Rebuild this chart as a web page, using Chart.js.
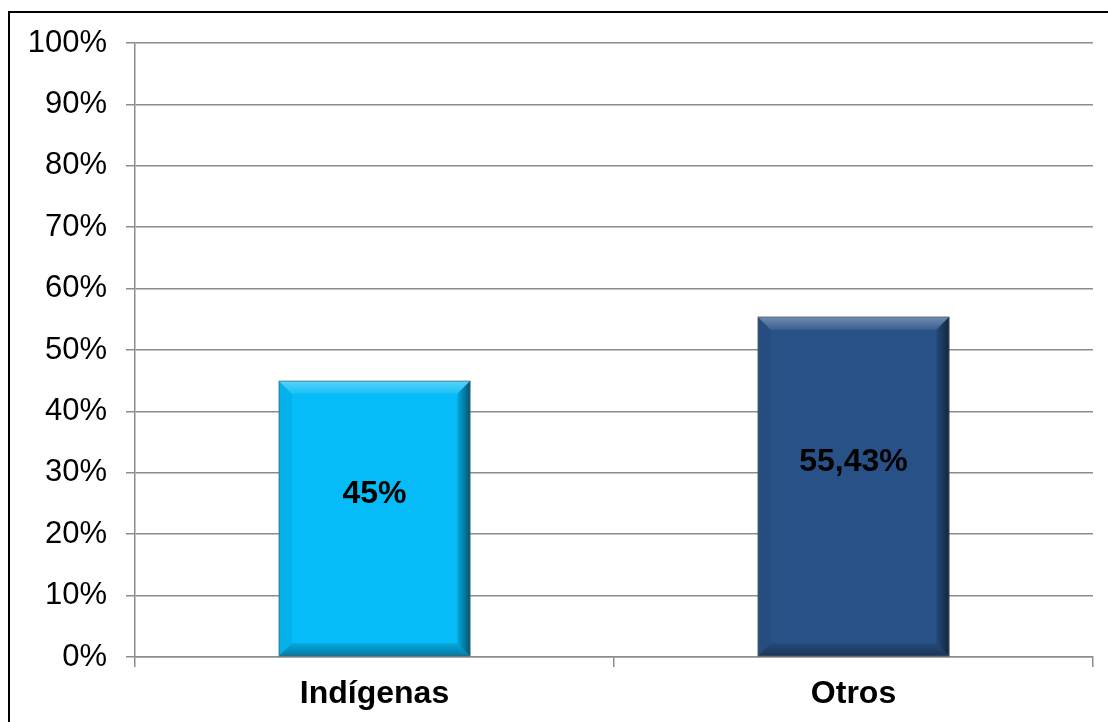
<!DOCTYPE html>
<html>
<head>
<meta charset="utf-8">
<script src="https://cdn.jsdelivr.net/npm/chart.js@4"></script>
<style>
  body { margin: 0; background: #fff; }
  #frame { position: absolute; left: 8px; top: 11px; width: 1200px; height: 800px; border: 2px solid #000; box-sizing: border-box; }
  #myChart { position: absolute; left: 0; top: 0; }
</style>
</head>
<body>
<div id="frame"></div>
<canvas id="myChart" width="1108" height="722"></canvas>
<script>
// Indígenas vs Otros, share in percent

const categories = ["Indígenas", "Otros"]
const values = [45, 55.43]
const valueLabels = ["45%", "55,43%"]
const barColors = ["#05BBF8", "#285287"]

const ctx = document.querySelector("#myChart")

// fake the beveled look of the original bars
const bevel = {
  id: 'bevel',
  afterDatasetsDraw(chart) {
    const c = chart.ctx
    chart.getDatasetMeta(0).data.forEach((bar, i) => {
      const l = bar.x - bar.width / 2, r = bar.x + bar.width / 2
      const t = bar.y, b = bar.base, s = 13
      const poly = (pts, fill) => {
        c.beginPath()
        c.moveTo(pts[0][0], pts[0][1])
        pts.slice(1).forEach(p => c.lineTo(p[0], p[1]))
        c.closePath()
        c.fillStyle = fill
        c.fill()
      }
      c.save()
      const top = c.createLinearGradient(0, t, 0, t + s)
      top.addColorStop(0, 'rgba(255,255,255,0.35)')
      top.addColorStop(1, 'rgba(255,255,255,0.08)')
      poly([[l, t], [r, t], [r - s, t + s], [l + s, t + s]], top)
      poly([[l, t], [l + s, t + s], [l + s, b - s], [l, b]], 'rgba(0,0,0,0.05)')
      const right = c.createLinearGradient(r - s, 0, r, 0)
      right.addColorStop(0, 'rgba(0,0,0,0.1)')
      right.addColorStop(1, 'rgba(0,0,0,0.55)')
      poly([[r, t], [r, b], [r - s, b - s], [r - s, t + s]], right)
      const bottom = c.createLinearGradient(0, b - s, 0, b)
      bottom.addColorStop(0, 'rgba(0,0,0,0.1)')
      bottom.addColorStop(1, 'rgba(0,0,0,0.35)')
      poly([[l, b], [l + s, b - s], [r - s, b - s], [r, b]], bottom)
      c.strokeStyle = 'rgba(90,90,90,0.6)'
      c.lineWidth = 1
      c.strokeRect(l + 0.5, t + 0.5, r - l - 1, b - t - 1)
      // value label, a bit above the middle of the bar
      c.fillStyle = '#000'
      c.font = 'bold 32px "Liberation Sans", Arial, sans-serif'
      c.textAlign = 'center'
      c.textBaseline = 'middle'
      c.fillText(valueLabels[i], bar.x, (t + b) / 2 - 24)
      c.restore()
    })
  }
}

const data = {
  labels: categories,
  datasets: [{
    data: values,
    backgroundColor: barColors,
    barPercentage: 0.4,
    categoryPercentage: 1
  }]
}

const options = {
  responsive: false,
  animation: false,
  layout: { padding: { left: 0, top: 43, right: 15, bottom: 0 } },
  plugins: {
    legend: { display: false },
    tooltip: { enabled: false }
  },
  scales: {
    y: {
      min: 0,
      max: 100,
      afterFit: s => { s.width = 135 },
      ticks: {
        stepSize: 10,
        padding: 19,
        color: '#000',
        font: { family: '"Liberation Sans", Arial, sans-serif', size: 31 },
        callback: v => v + '%'
      },
      grid: { color: '#8c8c8c', lineWidth: 1.5, tickLength: 9 },
      border: { color: '#8c8c8c', width: 1.5 }
    },
    x: {
      afterFit: s => { s.height = 65 },
      ticks: {
        padding: 8,
        color: '#000',
        font: { family: '"Liberation Sans", Arial, sans-serif', size: 32, weight: 'bold' }
      },
      grid: { drawOnChartArea: false, color: '#8c8c8c', lineWidth: 1.5, tickLength: 10 },
      border: { color: '#8c8c8c', width: 1.5 }
    }
  }
}

const chart = new Chart(ctx, { type: 'bar', data: data, options: options, plugins: [bevel] })
</script>
</body>
</html>
